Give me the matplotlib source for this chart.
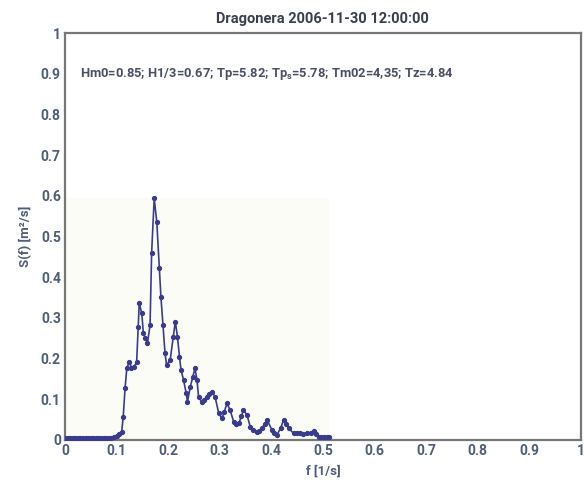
import matplotlib.pyplot as plt
import matplotlib.patches as mpatches

# spectrum
freq = [0.000, 0.005, 0.010, 0.015, 0.020, 0.025, 0.030, 0.035, 0.040, 0.045,
        0.050, 0.055, 0.060, 0.065, 0.070, 0.075, 0.080, 0.085, 0.090, 0.095,
        0.100, 0.105, 0.110, 0.113,
        0.1165, 0.120, 0.125, 0.129, 0.134, 0.139, 0.142, 0.144, 0.149, 0.152,
        0.156, 0.160, 0.165, 0.168, 0.173, 0.178, 0.183, 0.186, 0.190, 0.194,
        0.197, 0.204, 0.210, 0.214, 0.218, 0.222, 0.225, 0.230, 0.235, 0.2375,
        0.243, 0.248, 0.252, 0.256, 0.259, 0.265, 0.270, 0.275, 0.280, 0.285,
        0.291, 0.298, 0.304, 0.309, 0.314, 0.320, 0.327, 0.332, 0.337, 0.342,
        0.346, 0.353, 0.359, 0.365, 0.372, 0.377, 0.382, 0.387, 0.392, 0.401,
        0.406, 0.411, 0.418, 0.424, 0.429, 0.434, 0.443, 0.449, 0.456, 0.462,
        0.469, 0.476, 0.482, 0.487, 0.492, 0.497, 0.502, 0.507, 0.511]
spec = [0.004, 0.004, 0.004, 0.004, 0.004, 0.004, 0.004, 0.004, 0.004, 0.004,
        0.004, 0.004, 0.004, 0.004, 0.004, 0.004, 0.004, 0.005, 0.005, 0.007,
        0.010, 0.015, 0.020, 0.057,
        0.127, 0.177, 0.192, 0.177, 0.180, 0.192, 0.278, 0.336, 0.311, 0.262,
        0.250, 0.238, 0.283, 0.459, 0.594, 0.536, 0.422, 0.352, 0.283, 0.213,
        0.184, 0.197, 0.254, 0.291, 0.254, 0.205, 0.172, 0.147, 0.115, 0.094,
        0.131, 0.156, 0.176, 0.147, 0.106, 0.094, 0.098, 0.106, 0.114, 0.119,
        0.106, 0.066, 0.053, 0.070, 0.090, 0.074, 0.045, 0.040, 0.041, 0.058,
        0.074, 0.061, 0.033, 0.024, 0.020, 0.023, 0.029, 0.040, 0.049, 0.025,
        0.016, 0.012, 0.030, 0.049, 0.040, 0.029, 0.016, 0.016, 0.016, 0.015,
        0.016, 0.018, 0.023, 0.014, 0.008, 0.008, 0.008, 0.007, 0.007]

title = "Dragonera 2006-11-30 12:00:00"
params = "Hm0=0.85; H1/3=0.67; Tp=5.82; Tp$_\\mathregular{s}$=5.78; Tm02=4,35; Tz=4.84"
ticks = [0, 0.1, 0.2, 0.3, 0.4, 0.5, 0.6, 0.7, 0.8, 0.9, 1]
tick_labels = ["0", "0.1", "0.2", "0.3", "0.4", "0.5", "0.6", "0.7", "0.8", "0.9", "1"]

C_LINE = "#3b3b8e"
C_TICK = "#4e5d78"
C_SPINE = "#777777"

plt.rcParams["font.family"] = ["Roboto", "DejaVu Sans"]

fig = plt.figure(figsize=(5.85, 4.92), dpi=100)
ax = fig.add_axes([0.111, 0.1057, 0.882, 0.827])

# faint shaded data area behind the curve
ax.add_patch(mpatches.Rectangle((0, 0), max(freq), max(spec),
                                facecolor="#fcfcf7", edgecolor="none", zorder=0))

ax.plot(freq, spec, color=C_LINE, linewidth=1.2, marker="o", markersize=2.8,
        markerfacecolor=C_LINE, markeredgecolor=C_LINE, zorder=3)

ax.set_xlim(0, 1)
ax.set_ylim(0, 1)
ax.set_xticks(ticks)
ax.set_xticklabels(tick_labels)
ax.set_yticks(ticks)
ax.set_yticklabels(tick_labels)
ax.tick_params(length=0, pad=3, labelsize=10, labelcolor=C_TICK)
for lab in ax.get_xticklabels() + ax.get_yticklabels():
    lab.set_fontweight("bold")

for sp in ax.spines.values():
    sp.set_color(C_SPINE)
    sp.set_linewidth(1.6)

ax.set_title(title, fontsize=10.5, fontweight="bold", color="#3a3f4c", pad=7)
ax.set_xlabel("f [1/s]", fontsize=9.5, fontweight="bold", color=C_TICK, labelpad=5)
ax.set_ylabel("S(f) [m²/s]", fontsize=9.5, fontweight="bold", color=C_TICK, labelpad=6)

ax.text(0.03, 0.9, params, fontsize=9.3, fontweight="bold", color="#4a4f66",
        va="center", ha="left")

fig.savefig("out.png", dpi=100)
